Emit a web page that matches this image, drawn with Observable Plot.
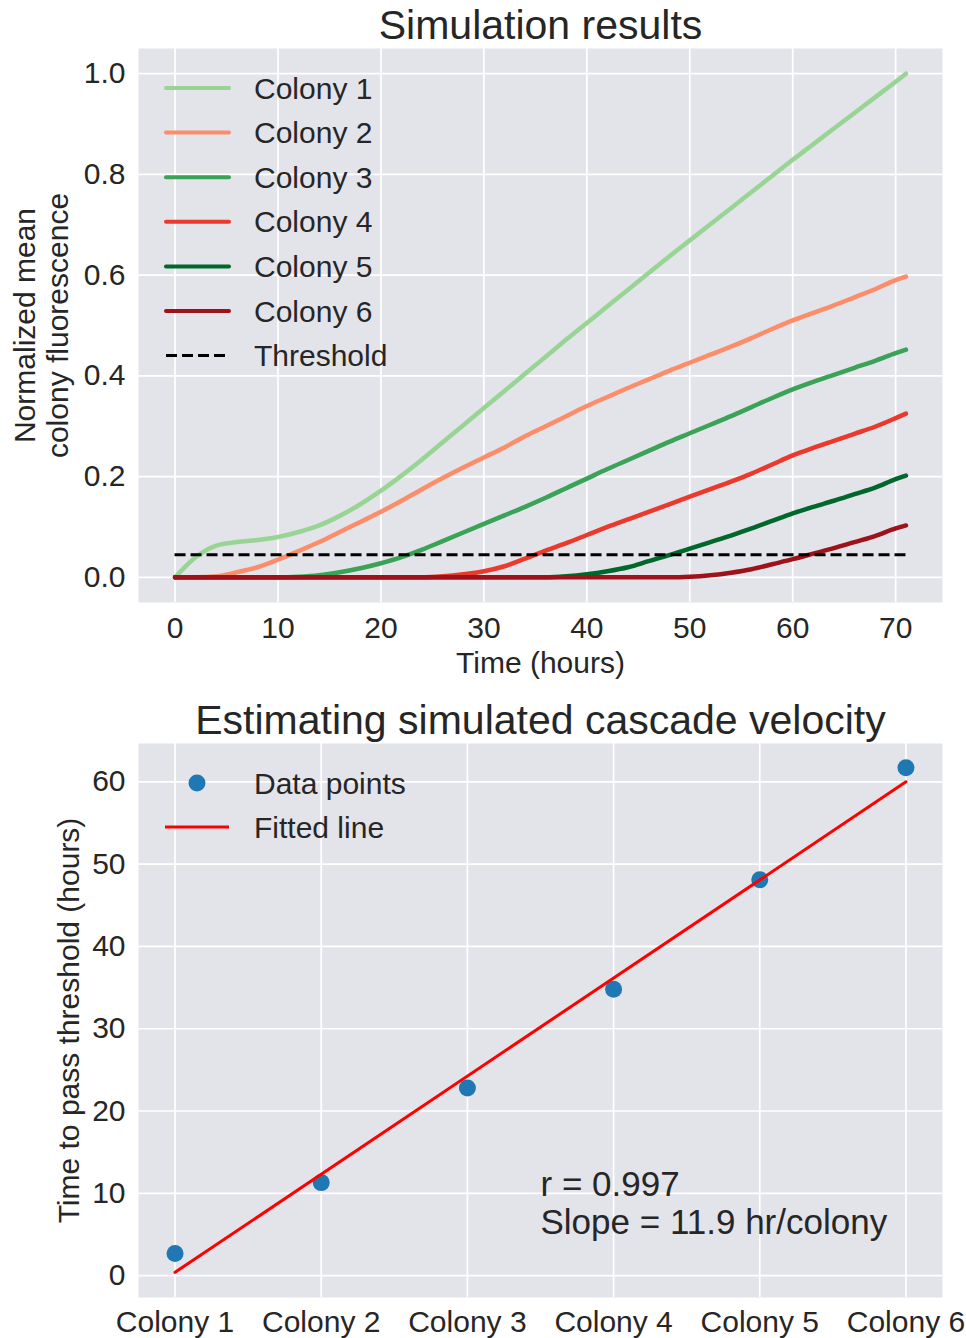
<!DOCTYPE html>
<html>
<head>
<meta charset="utf-8">
<script src="https://cdn.jsdelivr.net/npm/d3@7"></script>
<script src="https://cdn.jsdelivr.net/npm/@observablehq/plot@0.6"></script>
<style>
  html, body { margin: 0; padding: 0; background: #ffffff; }
  #wrap { width: 966px; }
  #wrap svg { display: block; }
</style>
</head>
<body>
<div id="wrap"></div>
<script>
// ---------- Data ----------
const times = [0,2,4,6,8,10,12,14,16,18,20,22,24,26,28,30,32,34,36,38,40,42,44,46,48,50,52,54,56,58,60,62,64,66,68,70,71];

const colony1 = [0,0.04,0.063,0.07,0.074,0.08,0.09,0.103,0.122,0.145,0.172,0.202,0.234,0.268,0.302,0.336,0.37,0.404,0.438,0.472,0.505,0.538,0.571,0.604,0.637,0.669,0.701,0.733,0.765,0.797,0.829,0.86,0.891,0.922,0.953,0.984,1.0];
const colony2 = [0,0,0.002,0.01,0.02,0.035,0.052,0.07,0.09,0.11,0.13,0.152,0.175,0.197,0.218,0.238,0.258,0.28,0.3,0.32,0.34,0.358,0.376,0.393,0.41,0.426,0.442,0.458,0.475,0.493,0.51,0.525,0.54,0.556,0.572,0.59,0.597];
const colony3 = [0,0,0,0,0,0,0.001,0.004,0.01,0.018,0.028,0.04,0.055,0.072,0.089,0.106,0.123,0.14,0.158,0.177,0.196,0.215,0.233,0.251,0.269,0.286,0.303,0.32,0.338,0.356,0.373,0.388,0.402,0.416,0.43,0.445,0.452];
const colony4 = [0,0,0,0,0,0,0,0,0,0,0,0,0,0.002,0.006,0.012,0.022,0.037,0.053,0.068,0.084,0.1,0.115,0.13,0.145,0.16,0.175,0.19,0.206,0.224,0.242,0.257,0.271,0.285,0.299,0.316,0.325];
const colony5 = [0,0,0,0,0,0,0,0,0,0,0,0,0,0,0,0,0,0,0,0.002,0.006,0.012,0.02,0.032,0.044,0.057,0.07,0.083,0.097,0.112,0.127,0.14,0.152,0.165,0.178,0.195,0.202];
const colony6 = [0,0,0,0,0,0,0,0,0,0,0,0,0,0,0,0,0,0,0,0,0,0,0,0,0,0.001,0.004,0.009,0.016,0.026,0.036,0.047,0.058,0.07,0.082,0.097,0.103];

const colonyNames = ["Colony 1","Colony 2","Colony 3","Colony 4","Colony 5","Colony 6"];
const colonyColors = ["#98d594","#fc8d6a","#3aa357","#ea3a2e","#00682b","#9e1219"];
const threshold = 0.045;
const thresholdLabel = "Threshold";

const xTicksTop = [0,10,20,30,40,50,60,70];
const yTicksTop = [0,0.2,0.4,0.6,0.8,1.0];

// Bottom chart
const colonyIndex = [0,1,2,3,4,5];
const passTimes = [2.7, 11.3, 22.8, 34.8, 48.1, 61.7];
const fittedIndex = [0,5];
const fittedValues = [0.4, 60.0];
const yTicksBottom = [0,10,20,30,40,50,60];
const annotationLines = ["r = 0.997","Slope = 11.9 hr/colony"];
const legendBottom = ["Data points","Fitted line"];

const title1 = "Simulation results";
const title2 = "Estimating simulated cascade velocity";
const xLabel1 = "Time (hours)";
const yLabel1 = "Normalized mean\ncolony fluorescence";
const yLabel2 = "Time to pass threshold (hours)";

// ---------- Style ----------
const BG = "#e3e3ea";
const INK = "#262626";
const FONT = "'Liberation Sans', Arial, Helvetica, sans-serif";

const series = [colony1,colony2,colony3,colony4,colony5,colony6];
const lineData = series.flatMap((vals, k) =>
  vals.map((v, i) => ({t: times[i], v, name: colonyNames[k]})));

// ---------- Top chart ----------
const topChart = Plot.plot({
  width: 966,
  height: 690,
  marginLeft: 138,
  marginRight: 24,
  marginTop: 48,
  marginBottom: 88,
  style: {background: "#ffffff", color: INK, fontFamily: FONT, fontSize: "30px", overflow: "visible"},
  x: {domain: [-3.55, 74.55]},
  y: {domain: [-0.05, 1.05]},
  color: {domain: colonyNames, range: colonyColors},
  marks: [
    Plot.frame({fill: BG, stroke: null}),
    Plot.gridX(xTicksTop, {stroke: "#ffffff", strokeOpacity: 1, strokeWidth: 1.7}),
    Plot.gridY(yTicksTop, {stroke: "#ffffff", strokeOpacity: 1, strokeWidth: 1.7}),
    Plot.axisX(xTicksTop, {tickSize: 0, tickPadding: 14, fontSize: 30, label: null, tickFormat: d3.format("d")}),
    Plot.axisY(yTicksTop, {tickSize: 0, tickPadding: 13, fontSize: 30, label: null, tickFormat: d3.format(".1f")}),
    Plot.line(lineData, {x: "t", y: "v", z: "name", stroke: "name", strokeWidth: 4.5,
      curve: "monotone-x", strokeLinecap: "round", strokeLinejoin: "round"}),
    Plot.ruleY([threshold], {x1: d3.min(times), x2: d3.max(times), stroke: "#000000",
      strokeWidth: 3, strokeDasharray: "11 5"}),
    Plot.text([title1], {frameAnchor: "top", dy: -10, lineAnchor: "bottom", fontSize: 41, fill: INK}),
    Plot.text([xLabel1], {frameAnchor: "bottom", dy: 70, lineAnchor: "bottom", fontSize: 30, fill: INK}),
    Plot.text([yLabel1], {frameAnchor: "left", dx: -71, rotate: -90, textAnchor: "middle", lineAnchor: "bottom",
      lineHeight: 1.07, fontSize: 30, fill: INK})
  ]
});

// legend for top chart
(function () {
  const svg = d3.select(topChart);
  const g = svg.append("g").attr("font-family", FONT).attr("font-size", 30).attr("fill", INK)
    .attr("text-anchor", "start");
  const items = colonyNames.map((n, i) => ({label: n, color: colonyColors[i], dash: null, w: 4}))
    .concat([{label: thresholdLabel, color: "#000000", dash: "11 5", w: 3}]);
  items.forEach((d, i) => {
    const y = 88 + i * 44.6;
    g.append("line").attr("x1", 166).attr("x2", 229).attr("y1", y).attr("y2", y)
      .attr("stroke", d.color).attr("stroke-width", d.w)
      .attr("stroke-linecap", d.dash ? "butt" : "round")
      .attr("stroke-dasharray", d.dash);
    g.append("text").attr("x", 254).attr("y", y).attr("dy", "0.35em").text(d.label);
  });
})();

// ---------- Bottom chart ----------
const pointsData = colonyIndex.map((i) => ({i, t: passTimes[i]}));
const fitData = fittedIndex.map((i, k) => ({i, t: fittedValues[k]}));

const bottomChart = Plot.plot({
  width: 966,
  height: 648,
  marginLeft: 138,
  marginRight: 24,
  marginTop: 53,
  marginBottom: 41,
  style: {background: "#ffffff", color: INK, fontFamily: FONT, fontSize: "30px", overflow: "visible"},
  x: {domain: [-0.25, 5.25]},
  y: {domain: [-2.66, 64.66]},
  marks: [
    Plot.frame({fill: BG, stroke: null}),
    Plot.gridX(colonyIndex, {stroke: "#ffffff", strokeOpacity: 1, strokeWidth: 1.7}),
    Plot.gridY(yTicksBottom, {stroke: "#ffffff", strokeOpacity: 1, strokeWidth: 1.7}),
    Plot.axisX(colonyIndex, {tickSize: 0, tickPadding: 13, fontSize: 30, label: null,
      tickFormat: (i) => colonyNames[i]}),
    Plot.axisY(yTicksBottom, {tickSize: 0, tickPadding: 13, fontSize: 30, label: null, tickFormat: d3.format("d")}),
    Plot.dot(pointsData, {x: "i", y: "t", r: 8.5, fill: "#1f77b4", stroke: null}),
    Plot.line(fitData, {x: "i", y: "t", stroke: "#ff0000", strokeWidth: 3}),
    Plot.text([annotationLines.join("\n")], {x: 2.5, y: 5, textAnchor: "start", lineAnchor: "bottom",
      lineHeight: 1.09, fontSize: 35, fill: INK}),
    Plot.text([title2], {frameAnchor: "top", dy: -10, lineAnchor: "bottom", fontSize: 41, fill: INK}),
    Plot.text([yLabel2], {frameAnchor: "left", dx: -60, rotate: -90, textAnchor: "middle", lineAnchor: "bottom",
      fontSize: 30, fill: INK})
  ]
});

// legend for bottom chart
(function () {
  const svg = d3.select(bottomChart);
  const g = svg.append("g").attr("font-family", FONT).attr("font-size", 30).attr("fill", INK)
    .attr("text-anchor", "start");
  const y0 = 93, y1 = 137;
  g.append("circle").attr("cx", 197).attr("cy", y0).attr("r", 8.5).attr("fill", "#1f77b4");
  g.append("text").attr("x", 254).attr("y", y0).attr("dy", "0.35em").text(legendBottom[0]);
  g.append("line").attr("x1", 165).attr("x2", 229).attr("y1", y1).attr("y2", y1)
    .attr("stroke", "#ff0000").attr("stroke-width", 3);
  g.append("text").attr("x", 254).attr("y", y1).attr("dy", "0.35em").text(legendBottom[1]);
})();

document.getElementById("wrap").append(topChart, bottomChart);
</script>
</body>
</html>
